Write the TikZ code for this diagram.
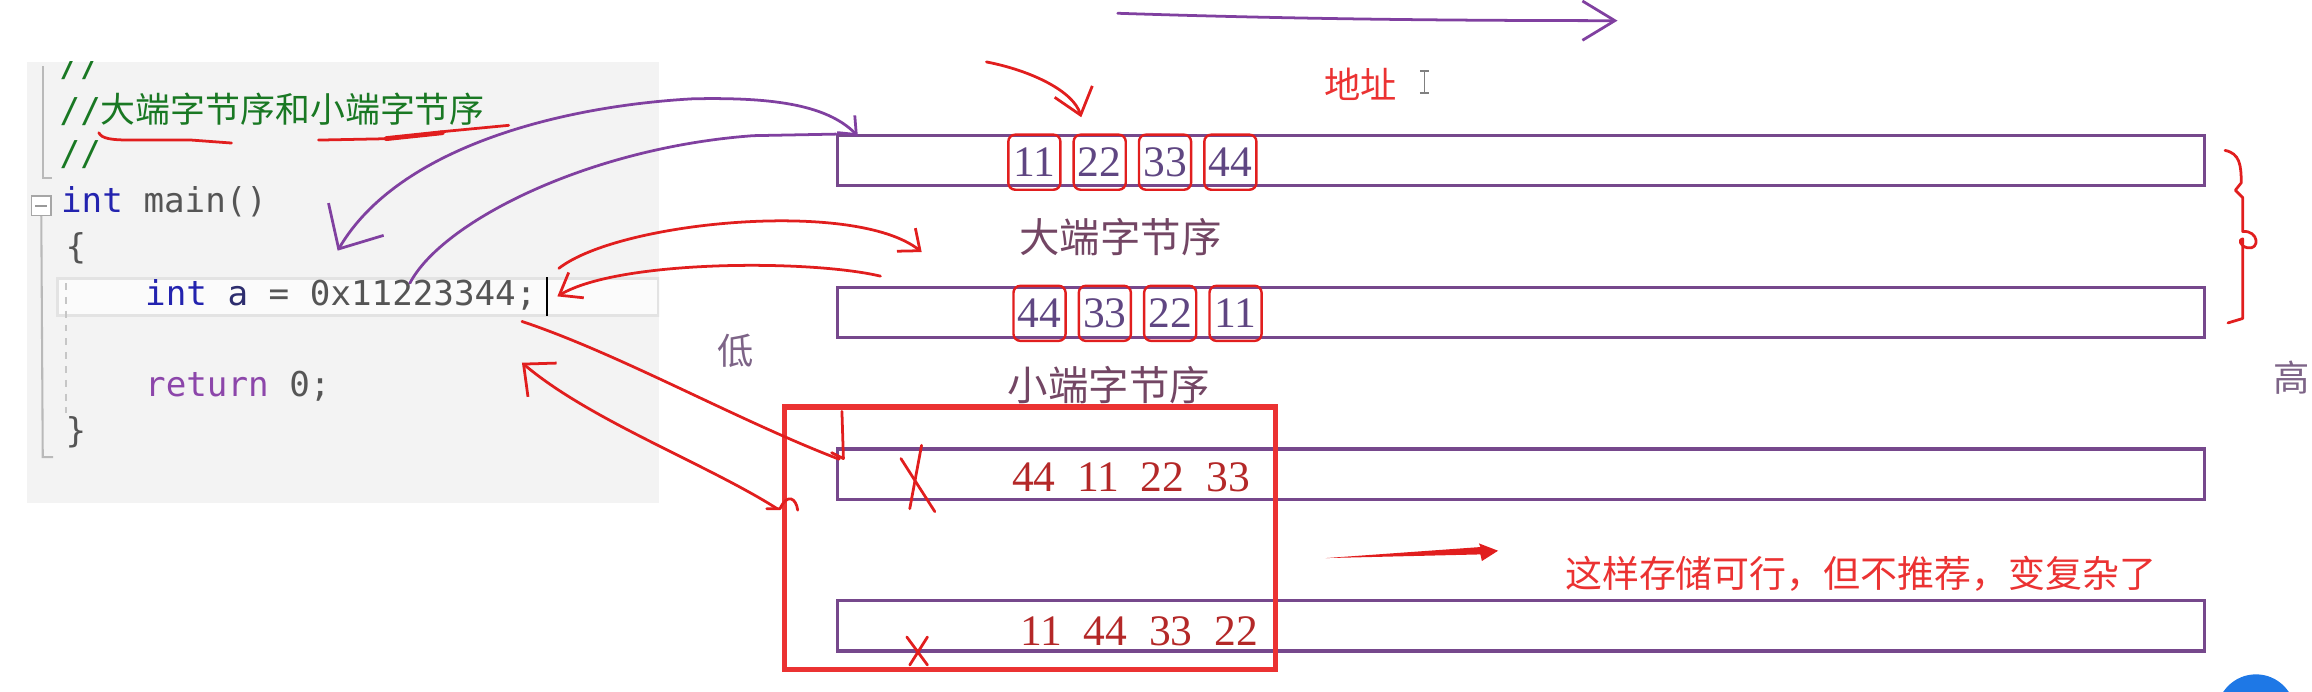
\documentclass[tikz,border=0pt]{standalone}
\usepackage{fontspec}
\usepackage{xcolor}
\usepackage{tikz}
\usetikzlibrary{arrows.meta,positioning}

\newfontfamily\cjk{Noto Sans CJK SC}
\newfontfamily\codefont{DejaVu Sans Mono}
\newfontfamily\numfont{Liberation Serif}

\definecolor{panelgray}{RGB}{243,243,243}
\definecolor{codeblue}{RGB}{35,35,175}
\definecolor{codegray}{RGB}{85,85,85}
\definecolor{codenavy}{RGB}{45,45,110}
\definecolor{codepurple}{RGB}{140,70,170}
\definecolor{codegreen}{RGB}{25,120,35}
\definecolor{inkpurple}{RGB}{128,64,160}
\definecolor{rowpurple}{RGB}{118,72,140}
\definecolor{inkred}{RGB}{225,30,30}
\definecolor{framered}{RGB}{235,50,50}
\definecolor{tagmauve}{RGB}{115,70,100}
\definecolor{numpurple}{RGB}{95,70,130}
\definecolor{rowred}{RGB}{180,40,40}
\definecolor{sidegray}{RGB}{125,100,135}
\definecolor{bubbleblue}{RGB}{30,120,230}

\tikzset{
  code/.style={anchor=base west, inner sep=0pt, font=\codefont\fontsize{9.9pt}{11pt}\selectfont, text=codegray},
  rowbox/.style={draw=rowpurple, line width=0.9pt, minimum width=13.9cm, minimum height=0.51cm, inner sep=0pt},
  bytebox/.style={draw=inkred, rounded corners=2pt, line width=0.7pt, minimum width=0.53cm, minimum height=0.56cm, inner sep=0pt, text=numpurple, font=\numfont\fontsize{12.6pt}{14pt}\selectfont},
  badrow/.style={inner sep=0pt, text=rowred, font=\numfont\fontsize{12.6pt}{14pt}\selectfont},
  tag/.style={inner sep=0pt, text=tagmauve, font=\cjk\fontsize{11.7pt}{14pt}\selectfont},
  side/.style={inner sep=0pt, text=sidegray, font=\cjk\fontsize{10.5pt}{12pt}\selectfont},
  pen/.style={line width=0.8pt, line cap=round, line join=round},
  purplepen/.style={pen, draw=inkpurple},
  redpen/.style={pen, draw=inkred},
}

\begin{document}
\begin{tikzpicture}[x=0.015cm, y=-0.015cm]
	\useasboundingbox (0,0) rectangle (1568,469);
	% editor panel
	\fill[panelgray] (18,42) rectangle (447,341);
	\begin{scope}
		\clip (18,42) rectangle (447,341);
		\draw[draw=gray!22, line width=1pt, fill=gray!3] (39,189) rectangle (447,214);
		\node[code, text=codegreen] (cmt1) at (40,52) {//};
		\node[code, text=codegreen] (cmt2) at (40,83) {//{\cjk\fontsize{10.1pt}{12pt}\selectfont 大端字节序和小端字节序}};
		\node[code, text=codegreen] (cmt3) at (40,112) {//};
		\node[code] (mainline) at (41,144) {{\color{codeblue}int} main()};
		\node[code] (lbrace) at (44,175) {\{};
		\node[code] (decl) at (98,207) {{\color{codeblue}int} {\color{codenavy}a} = 0x11223344;};
		\node[code] (ret) at (98,269) {{\color{codepurple}return} 0;};
		\node[code] (rbrace) at (44,300) {\}};
	\end{scope}
	\node[draw=gray!70, fill=white, minimum size=0.2cm, inner sep=0pt] (fold) at (28,139.5) {};
	\draw[gray!80, line width=0.6pt] ([xshift=-0.06cm]fold.center) -- ([xshift=0.06cm]fold.center);
	\draw[gray!55, line width=0.6pt] (29,45) -- (29,121) -- (35,121);
	\draw[gray!55, line width=0.6pt] (fold.south) -- (29,310) -- (36,310);
	\draw[gray!45, line width=0.5pt, dash pattern=on 2pt off 2pt] (45,192) -- (45,280);
	\draw[black, line width=0.7pt] (371,188) -- (371,214);

	% memory rows
	\node[rowbox] (row1) at (1031.5,109) {};
	\node[rowbox] (row2) at (1031.5,212) {};
	\node[rowbox] (row3) at (1031.5,321.5) {};
	\node[rowbox] (row4) at (1031.5,424.5) {};

	\node[bytebox] (b11) at (701.5,110) {11};
	\node[bytebox, right=0.11cm of b11] (b22) {22};
	\node[bytebox, right=0.11cm of b22] (b33) {33};
	\node[bytebox, right=0.11cm of b33] (b44) {44};

	\node[bytebox] (l44) at (705,212.5) {44};
	\node[bytebox, right=0.11cm of l44] (l33) {33};
	\node[bytebox, right=0.11cm of l33] (l22) {22};
	\node[bytebox, right=0.11cm of l22] (l11) {11};

	\node[badrow] (bad1) at (767,324) {44\enspace 11\enspace 22\enspace 33};
	\node[badrow] (bad2) at (772.5,428) {11\enspace 44\enspace 33\enspace 22};

	\node[tag] (bigLbl) at (760,161) {大端字节序};
	\node[tag] (littleLbl) at (752,261) {小端字节序};
	\node[side] (low) at (499,238) {低};
	\node[side] (high) at (1554,256) {高};
	\node[inner sep=0pt, text=framered, font=\cjk\fontsize{10.5pt}{12pt}\selectfont] (addr) at (923,57) {地址};
	\node[inner sep=0pt, text=framered, font=\cjk\fontsize{10.7pt}{13pt}\selectfont] (note) at (1262,389) {这样存储可行，但不推荐，变复杂了};

	\node[draw=framered, line width=1.5pt, minimum width=5cm, minimum height=2.67cm, inner sep=0pt] (frame) at (698.5,365) {};

	% mouse cursor
	\draw[gray, line width=0.5pt] (966,48) -- (966,63);
	\draw[gray, line width=0.5pt] (963,48) -- (969,48);
	\draw[gray, line width=0.5pt] (963,63) -- (969,63);

	% hand drawn marks
	\coordinate (mainTip) at (229,170);
	\coordinate (hexTop) at (278,192);
	\coordinate (semiTop) at (379,182);
	\coordinate (semiTip) at (378,201);
	\coordinate (semiLow) at (354,218);
	\coordinate (semiBack) at (354,246);
	\coordinate (hint) at (669,42);
	\coordinate (addrL) at (758,9);
	\coordinate (addrR) at (1097,14);

	\draw[redpen] (67,90) .. controls (69,94) and (75,95) .. (90,95) -- (130,95) -- (157,97);
	\draw[redpen] (216,95) -- (266,94) -- (303,89) -- (345,85);
	\draw[redpen, line width=1.4pt] (262,94) -- (300,90);

	\draw[purplepen, {Straight Barb[length=1.5mm,width=2.5mm]}-{Straight Barb[length=3.5mm,width=6.5mm]}] ([xshift=2.2mm,yshift=-0.2mm]row1.north west) .. controls (560,70) and (520,66) .. (470,67) .. controls (380,72) and (270,100) .. (mainTip);
	\draw[purplepen] (hexTop) .. controls (300,150) and (400,100) .. (511,92) -- (row1.north west);
	\draw[redpen, -{Straight Barb[length=1.8mm,width=3mm]}] (semiTop) .. controls (420,150) and (580,135) .. ([xshift=8.7mm,yshift=3.45mm]row2.north west);
	\draw[redpen, -{Straight Barb[length=2mm,width=3mm]}] ([xshift=4.5mm,yshift=1mm]row2.north west) .. controls (550,176) and (420,176) .. (semiTip);
	\draw[redpen] (semiLow) .. controls (420,240) and (500,285) .. ([xshift=0.3mm,yshift=-1.2mm]row3.north west);
	\draw[redpen] (571,279) -- (572,311) -- (564,307);
	\draw[redpen, -{Straight Barb[length=2.5mm,width=4.5mm]}] ([xshift=-0.45mm,yshift=3mm]frame.west) .. controls (480,315) and (400,285) .. (semiBack);
	\draw[redpen] (520,345) -- (529,345) .. controls (534,334) and (540,338) .. (541,346);
	\draw[redpen, -{Straight Barb[length=2.5mm,width=4mm]}] (hint) .. controls (700,48) and (728,62) .. ([xshift=0.9mm,yshift=1.65mm]b22.north west);
	\draw[purplepen, -{Straight Barb[length=3.3mm,width=4mm]}] (addrL) .. controls (850,12) and (950,14) .. (addrR);

	% crosses
	\draw[redpen] (611,311) -- (634,347);
	\draw[redpen] (625,302) -- (617,345);
	\draw[redpen] (615,432) -- (629,451);
	\draw[redpen] (629,432) -- (617,451);

	% brace
	\draw[redpen] (1509,102) .. controls (1519,104) and (1520,112) .. (1520,124) -- (1516,129) -- (1521,134) -- (1521,157) .. controls (1532,156) and (1533,170) .. (1524,168) .. controls (1519,167) and (1518,162) .. (1521,162) -- (1521,216) -- (1511,219);

	% arrow to the note
	\fill[inkred] (899,378.5) -- (1004,371) -- (1003,368.5) -- (1016,373.5) -- (1005,380.5) -- (1004,376) -- cycle;

	\fill[bubbleblue] (1530,484) circle (0.4cm);
\end{tikzpicture}
\end{document}
